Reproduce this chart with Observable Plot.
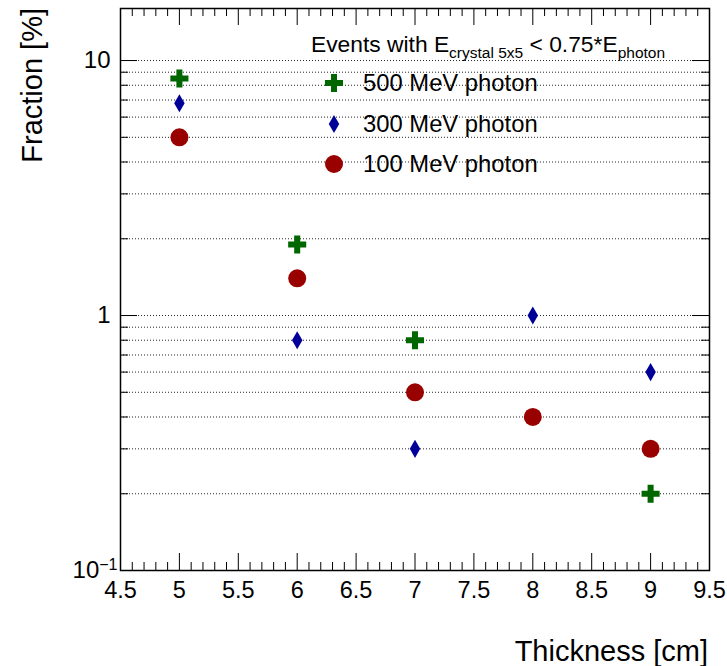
<!DOCTYPE html>
<html><head><meta charset="utf-8">
<script src="https://cdn.jsdelivr.net/npm/d3@7"></script>
<script src="https://cdn.jsdelivr.net/npm/@observablehq/plot@0.6"></script>
<style>body{margin:0;background:#fff;} #chart svg{display:block;}</style>
</head><body><div id="chart"></div>
<script>
// ---- data ----
const thickness = [5, 6, 7, 8, 9];
const frac500 = [8.5, 1.9, 0.8, null, 0.2];
const frac300 = [6.8, 0.8, 0.3, 1.0, 0.6];
const frac100 = [5.0, 1.4, 0.5, 0.4, 0.3];
const seriesNames = ["500 MeV photon", "300 MeV photon", "100 MeV photon"];
const seriesColors = ["#006600", "#000099", "#990000"];
const seriesSymbols = ["cross", "diamond", "circle"];
const xMajorTicks = [4.5, 5, 5.5, 6, 6.5, 7, 7.5, 8, 8.5, 9, 9.5];
const yLabelTicks = [0.1, 1, 10];
const yLabelText = ["10^-1", "1", "10"];
const yMinorTicks = [0.2, 0.3, 0.4, 0.5, 0.6, 0.7, 0.8, 0.9, 2, 3, 4, 5, 6, 7, 8, 9];
const xTitle = "Thickness [cm]";
const yTitle = "Fraction [%]";

// ---- layout ----
const W = 727, H = 666;
const mL = 120, mR = 18, mT = 8, mB = 96;
const frameW = W - mL - mR, frameH = H - mT - mB;
const majorLen = 17, minorLen = 8;
const font = "'Liberation Sans', Arial, Helvetica, sans-serif";

const xMinorTicks = d3.range(45, 96).map(d => d / 10).filter(v => !xMajorTicks.some(m => Math.abs(m - v) < 1e-9));
const gridValues = yMinorTicks.concat([1, 10]);

const seriesValues = [frac500, frac300, frac100];
const rows = seriesValues.map(vals =>
  thickness.map((t, i) => ({x: t, y: vals[i]})).filter(d => d.y != null));
const symbolR = [7.6, 5.5, 9];

const chart = Plot.plot({
  width: W, height: H,
  marginLeft: mL, marginRight: mR, marginTop: mT, marginBottom: mB,
  style: {fontFamily: font, background: "#fff", color: "#000"},
  x: {domain: [4.5, 9.5]},
  y: {type: "log", domain: [0.1, 16]},
  marks: [
    Plot.ruleY(gridValues, {y: d => d, stroke: "#000", strokeWidth: 1, strokeDasharray: "1,2", strokeOpacity: 0.85}),
    // bottom ticks
    Plot.tickX(xMinorTicks, {x: d => d, insetTop: frameH - minorLen, stroke: "#000"}),
    Plot.tickX(xMajorTicks, {x: d => d, insetTop: frameH - majorLen, stroke: "#000"}),
    // top ticks
    Plot.tickX(xMinorTicks, {x: d => d, insetBottom: frameH - minorLen, stroke: "#000"}),
    Plot.tickX(xMajorTicks, {x: d => d, insetBottom: frameH - majorLen, stroke: "#000"}),
    // left ticks
    Plot.tickY(yMinorTicks, {y: d => d, insetRight: frameW - minorLen, stroke: "#000"}),
    Plot.tickY(yLabelTicks, {y: d => d, insetRight: frameW - majorLen, stroke: "#000"}),
    // right ticks
    Plot.tickY(yMinorTicks, {y: d => d, insetLeft: frameW - minorLen, stroke: "#000"}),
    Plot.tickY(yLabelTicks, {y: d => d, insetLeft: frameW - majorLen, stroke: "#000"}),
    Plot.axisX({ticks: xMajorTicks, tickSize: 0, tickPadding: 11, fontSize: 23.5, tickFormat: d => String(d), label: null}),
    Plot.axisY({ticks: yLabelTicks, tickSize: 0, tickPadding: 10, fontSize: 24,
      tickFormat: d => yLabelText[yLabelTicks.indexOf(d)], label: null}),
    ...rows.map((r, i) => Plot.dot(r, {x: "x", y: "y", symbol: seriesSymbols[i], fill: seriesColors[i], r: symbolR[i]})),
    Plot.frame({stroke: "#000", strokeWidth: 1.5})
  ]
});

document.getElementById("chart").appendChild(chart);
const svg = d3.select(chart);

// superscript for 10^-1
svg.selectAll("text").filter(function () { return this.textContent === "10^-1"; })
  .each(function () {
    const t = d3.select(this);
    t.text("10").attr("dx", 7);
    t.append("tspan").attr("dy", "-8").attr("font-size", 16).text("\u22121");
  });

// axis titles
svg.append("text")
  .attr("transform", `translate(42,${mT}) rotate(-90)`)
  .attr("text-anchor", "end").attr("font-size", 29).attr("font-family", font)
  .attr("fill", "#000").text(yTitle);
svg.append("text")
  .attr("x", W - mR - 1).attr("y", 661)
  .attr("text-anchor", "end").attr("font-size", 29).attr("font-family", font)
  .attr("fill", "#000").text(xTitle);

// legend
const leg = svg.append("g").attr("font-family", font).attr("fill", "#000").attr("text-anchor", "start");
const title = leg.append("text").attr("x", 311).attr("y", 52).attr("font-size", 22.8).attr("text-anchor", "start");
title.append("tspan").text("Events with E");
title.append("tspan").attr("dy", 6).attr("font-size", 15.5).text("crystal 5x5");
title.append("tspan").attr("dy", -6).text(" < 0.75*E");
title.append("tspan").attr("dy", 6).attr("font-size", 15.5).text("photon");

const symTypes = {cross: d3.symbolCross, diamond: d3.symbolDiamond, circle: d3.symbolCircle};
const rowY = [83, 124, 164];
seriesNames.forEach((name, i) => {
  leg.append("path")
    .attr("d", d3.symbol(symTypes[seriesSymbols[i]], Math.PI * symbolR[i] * symbolR[i])())
    .attr("transform", `translate(334,${rowY[i]})`)
    .attr("fill", seriesColors[i]);
  leg.append("text").attr("x", 363).attr("y", rowY[i]).attr("dy", "0.35em")
    .attr("text-anchor", "start").attr("font-size", 23.8).text(name);
});
</script>
</body></html>
